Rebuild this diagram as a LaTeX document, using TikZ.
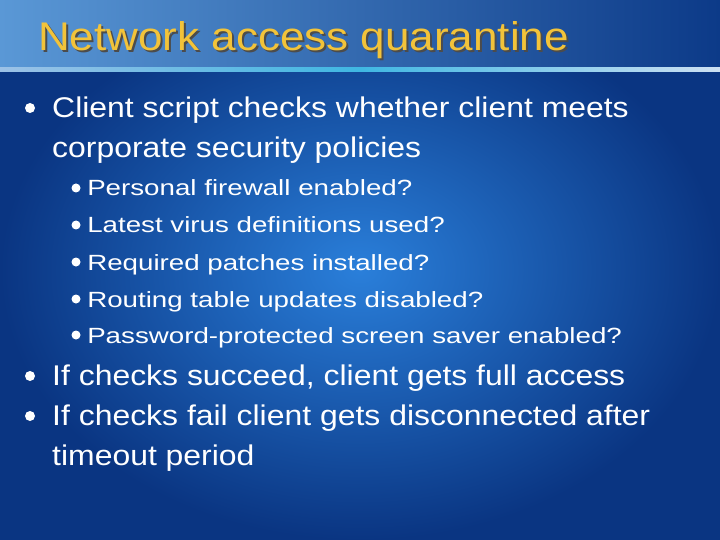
\documentclass[tikz,border=0pt]{standalone}
\usepackage{fontspec}
\setmainfont{Liberation Sans}
\definecolor{bgdark}{HTML}{0A3582}
\definecolor{bgmid}{HTML}{2A7FDA}
\definecolor{bandl}{HTML}{5A98D6}
\definecolor{bandr}{HTML}{0C3A88}
\definecolor{titlec}{HTML}{F2C33A}
\begin{document}
\begin{tikzpicture}[x=1pt,y=-1pt,
  lvlone/.style={anchor=base west,text=white,font=\fontsize{28.5}{32}\selectfont,inner sep=0pt,xscale=1.12},
  lvltwo/.style={anchor=base west,text=white,font=\fontsize{22}{26}\selectfont,inner sep=0pt,xscale=1.26},
  titlest/.style={anchor=base west,inner sep=0pt,font=\fontsize{40}{44}\selectfont,xscale=1.1},
  dotone/.style={fill=white,draw=none},
]
\useasboundingbox (0,0) rectangle (720,540);
\shade[outer color=bgdark,inner color=bgmid] (0,0) rectangle (720,540);
\shade[left color=bandl,right color=bandr] (0,0) rectangle (720,70);
\shade[left color=bandl!60!white,right color=white!70!bandl,middle color=cyan!30!bandl] (0,68) rectangle (720,72);
\node[titlest,text=black!70] (tsh) at (40,53) {Network access quarantine};
\node[titlest,text=titlec] (title) at (38,51) {Network access quarantine};
% level one
\fill[dotone] (30,108) circle (5);
\node[lvlone] (a1) at (52,118) {Client script checks whether client meets};
\node[lvlone] (a2) at (52,158) {corporate security policies};
\fill[dotone] (76,188) circle (4.5);
\node[lvltwo] (b1) at (87,196) {Personal firewall enabled?};
\fill[dotone] (76,225) circle (4.5);
\node[lvltwo] (b2) at (87,233) {Latest virus definitions used?};
\fill[dotone] (76,262) circle (4.5);
\node[lvltwo] (b3) at (87,270) {Required patches installed?};
\fill[dotone] (76,299) circle (4.5);
\node[lvltwo] (b4) at (87,307) {Routing table updates disabled?};
\fill[dotone] (76,335) circle (4.5);
\node[lvltwo] (b5) at (87,343) {Password-protected screen saver enabled?};
\fill[dotone] (30,376) circle (5);
\node[lvlone] (c1) at (52,385) {If checks succeed, client gets full access};
\fill[dotone] (30,416) circle (5);
\node[lvlone] (d1) at (52,425) {If checks fail client gets disconnected after};
\node[lvlone] (d2) at (52,465) {timeout period};
\end{tikzpicture}
\end{document}
